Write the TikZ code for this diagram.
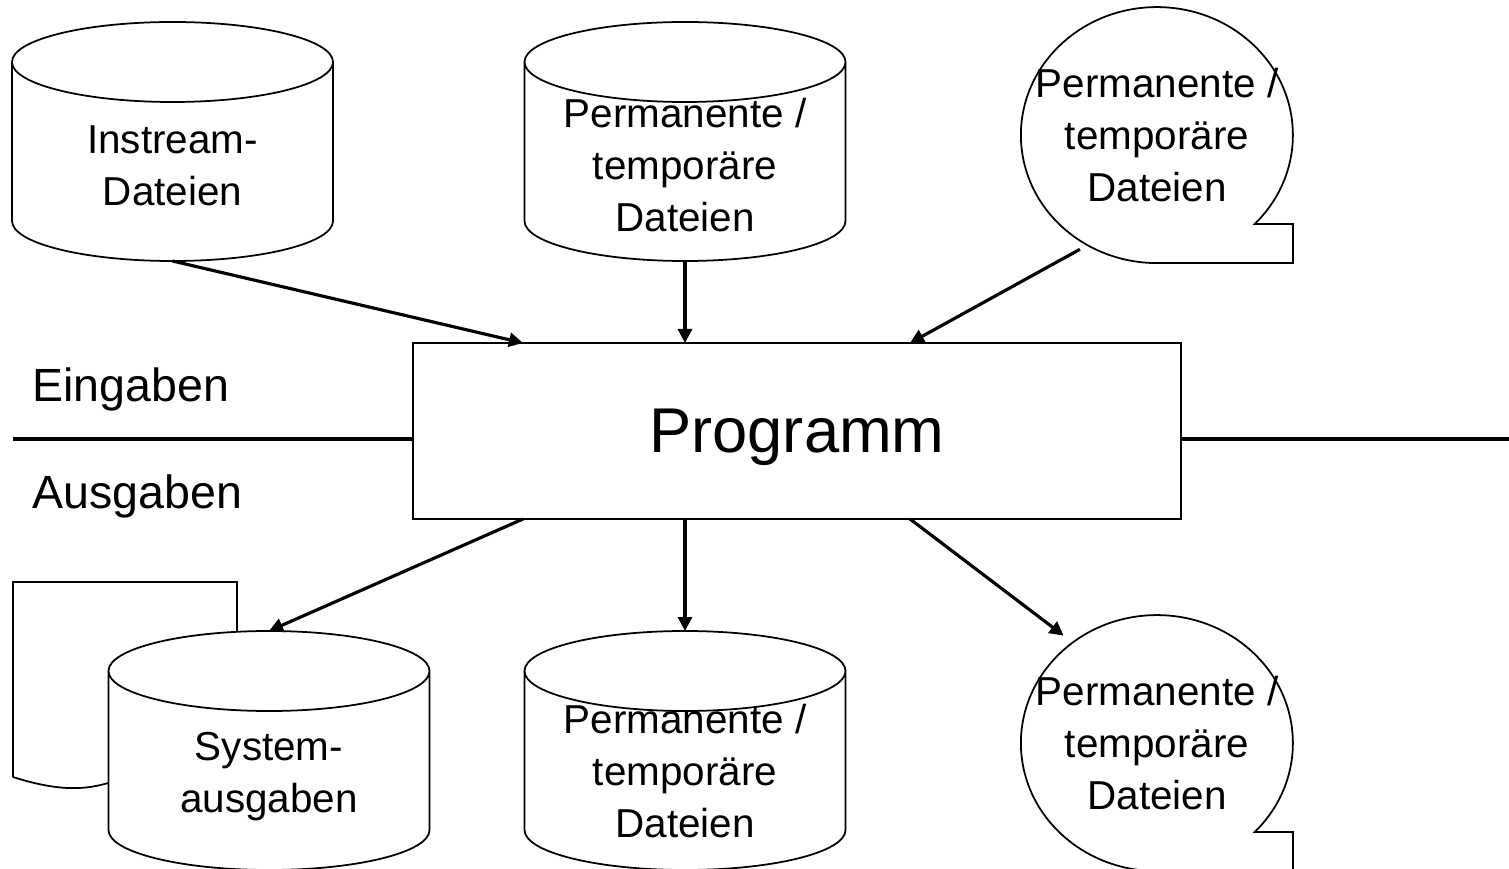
\documentclass[tikz,border=0pt]{standalone}
\usepackage{fontspec}
\setmainfont{Liberation Sans}
\usetikzlibrary{shapes.geometric,arrows.meta}
\tikzset{
  database/.style={rectangle, minimum width=64.2mm, minimum height=47.8mm, inner sep=0pt, outer sep=0pt},
  dbline/.style={draw, fill=white, line width=1pt},
  dbtext/.style={align=center, inner sep=0pt, font=\fontsize{23}{29.6}\selectfont},
  tape/.style={ellipse, minimum width=54.4mm, minimum height=51.2mm, inner sep=0pt, outer sep=0pt, align=center, font=\fontsize{23}{29.6}\selectfont},
  tapeline/.style={line width=1pt},
  docline/.style={line width=1pt, fill=white},
  progbox/.style={draw, line width=1pt, minimum width=153.6mm, minimum height=35.2mm, text depth=0pt, outer sep=0pt, font=\fontsize{36}{40}\selectfont},
  flow/.style={line width=1.8pt, -{Triangle[length=2.8mm,width=2.8mm]}},
  divider/.style={line width=1.9pt},
  side/.style={anchor=base west, inner sep=0pt, font=\fontsize{26.5}{30}\selectfont}
}
% cylinder outline round a database node
\newcommand{\dbdraw}[1]{%
  \draw[dbline] ([yshift=-8mm]#1.north west) -- ([yshift=8mm]#1.south west)
    arc[start angle=180, end angle=360, x radius=32.1mm, y radius=8mm]
    -- ([yshift=-8mm]#1.north east)
    arc[start angle=0, end angle=180, x radius=32.1mm, y radius=8mm] -- cycle
    ([yshift=-8mm]#1.north west) arc[start angle=180, end angle=360, x radius=32.1mm, y radius=8mm];}
\begin{document}
\begin{tikzpicture}[x=0.2mm, y=0.2mm]
  \useasboundingbox (0,0) rectangle (1509,-869);

  \node[database] (inA) at (172.5,-141.5) {};
  \dbdraw{inA}
  \node[dbtext] (inAtext) at (172.5,-165.5) {Instream-\\Dateien};
  \node[database] (diskA) at (685,-141.5) {};
  \dbdraw{diskA}
  \node[dbtext] (diskAtext) at (685,-165) {Permanente /\\temporäre\\Dateien};
  \node[tape] (tapeA) at (1157,-135) {Permanente /\\temporäre\\Dateien};
  \draw[tapeline] ([shift={(97.7,-89)}]tapeA.center) arc[start angle=-44, end angle=270, x radius=136, y radius=128] -- ++(136,0) -- ++(0,39) -- cycle;

  \node[progbox] (prog) at (797,-431) {Programm};
  \coordinate (sepL) at (13,-439);
  \coordinate (sepR) at (1509,-439);
  \draw[divider] (sepL) -- (sepL -| prog.west);
  \draw[divider] (sepR -| prog.east) -- (sepR);
  \node[side] (inLabel) at (32,-402) {Eingaben};
  \node[side] (outLabel) at (32,-508) {Ausgaben};

  \draw[docline] (13,-777) -- (13,-582) -- (237,-582) -- (237,-750) .. controls (125,-750) and (125,-813) .. (13,-777);
  \node[database] (sysB) at (269,-750.5) {};
  \dbdraw{sysB}
  \node[dbtext] (sysBtext) at (269,-777) {System-\\ausgaben};
  \node[database] (diskB) at (685,-750.5) {};
  \dbdraw{diskB}
  \node[dbtext] (diskBtext) at (685,-771) {Permanente /\\temporäre\\Dateien};
  \node[tape] (tapeB) at (1157,-743) {Permanente /\\temporäre\\Dateien};
  \draw[tapeline] ([shift={(97.7,-89)}]tapeB.center) arc[start angle=-44, end angle=270, x radius=136, y radius=128] -- ++(136,0) -- ++(0,39) -- cycle;

  \draw[flow] (inA.south) -- ([shift={(-274,0)}]prog.north);
  \draw[flow] (diskA.south) -- (diskA.south |- prog.north);
  \draw[flow] (tapeA.236.8) -- ([shift={(113,0)}]prog.north);
  \draw[flow] ([shift={(-274,0)}]prog.south) -- (sysB.north);
  \draw[flow] (diskB.north |- prog.south) -- (diskB.north);
  \draw[flow] ([shift={(113,0)}]prog.south) -- (tapeB.131.8);
\end{tikzpicture}
\end{document}
